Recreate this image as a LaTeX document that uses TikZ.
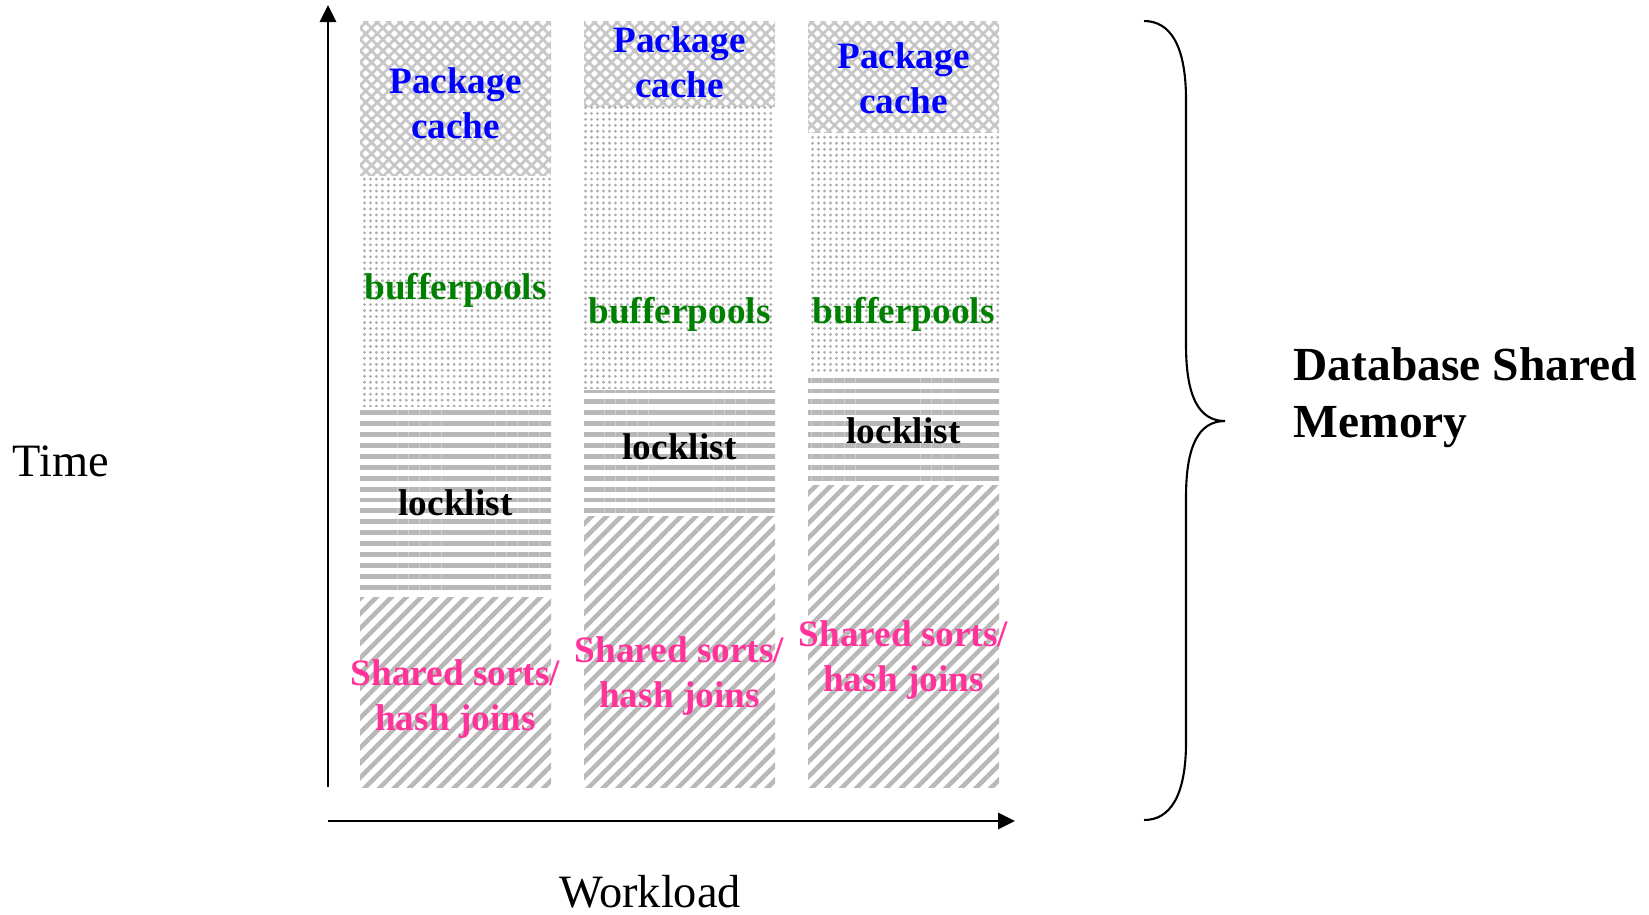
\documentclass[tikz,border=0pt]{standalone}
\usepackage{fontspec}
\setmainfont{Liberation Serif}
\usetikzlibrary{arrows.meta,patterns.meta}
\definecolor{cachecol}{RGB}{0,0,255}
\definecolor{poolcol}{RGB}{0,128,0}
\definecolor{sortcol}{RGB}{255,51,153}

\begin{document}
\begin{tikzpicture}[
    >={Triangle[length=0.17cm,width=0.16cm]},
    axis/.style={->,line width=.8pt,draw=black},
    cachebox/.style={pattern={Hatch[angle=45,distance=2.3pt,line width=.8pt]},pattern color=black!22},
    poolbox/.style={pattern={Dots[distance=1.7pt,radius=.45pt]},pattern color=black!32},
    lockbox/.style={pattern={Lines[angle=0,distance=3.1pt,line width=1.4pt]},pattern color=black!28},
    sortbox/.style={pattern={Lines[angle=45,distance=3pt,line width=1.3pt]},pattern color=black!28},
    part/.style={font=\fontsize{10.6}{12.8}\selectfont\bfseries,align=center,inner sep=0pt},
    axlabel/.style={font=\fontsize{13.2}{15.8}\selectfont,inner sep=0pt}]
\useasboundingbox (0,0) rectangle (16.49,-9.14);
% first column
\path[cachebox] (3.60,-0.21) rectangle (5.51,-1.75);
\path[poolbox] (3.60,-1.75) rectangle (5.51,-4.06);
\path[lockbox] (3.60,-4.08) rectangle (5.51,-5.95);
\path[sortbox] (3.60,-5.97) rectangle (5.51,-7.87);
% second column
\path[cachebox] (5.84,-0.21) rectangle (7.75,-1.06);
\path[poolbox] (5.84,-1.06) rectangle (7.75,-3.88);
\path[lockbox] (5.84,-3.90) rectangle (7.75,-5.14);
\path[sortbox] (5.84,-5.16) rectangle (7.75,-7.87);
% third column
\path[cachebox] (8.08,-0.21) rectangle (9.99,-1.32);
\path[poolbox] (8.08,-1.32) rectangle (9.99,-3.73);
\path[lockbox] (8.08,-3.75) rectangle (9.99,-4.83);
\path[sortbox] (8.08,-4.85) rectangle (9.99,-7.87);
\node[part,text=cachecol] (cache1) at (4.555,-1.03) {Package\\cache};
\node[part,text=poolcol] (pool1) at (4.555,-2.90) {bufferpools};
\node[part] (lock1) at (4.555,-5.03) {locklist};
\node[part,text=sortcol] (sort1) at (4.555,-6.99) {Shared sorts/\\hash joins};
\node[part,text=cachecol] (cache2) at (6.795,-0.62) {Package\\cache};
\node[part,text=poolcol] (pool2) at (6.795,-3.14) {bufferpools};
\node[part] (lock2) at (6.795,-4.47) {locklist};
\node[part,text=sortcol] (sort2) at (6.795,-6.76) {Shared sorts/\\hash joins};
\node[part,text=cachecol] (cache3) at (9.035,-0.78) {Package\\cache};
\node[part,text=poolcol] (pool3) at (9.035,-3.14) {bufferpools};
\node[part] (lock3) at (9.035,-4.31) {locklist};
\node[part,text=sortcol] (sort3) at (9.035,-6.60) {Shared sorts/\\hash joins};
% axes
\coordinate (ybase) at (3.28,-7.87);
\coordinate (ytop) at (3.28,-0.05);
\coordinate (xbase) at (3.28,-8.21);
\coordinate (xend) at (10.15,-8.21);
\draw[axis] (ybase)--(ytop);
\draw[axis] (xbase)--(xend);
\node[axlabel] (time) at (0.61,-4.61) {Time};
\node[axlabel] (workload) at (6.50,-8.92) {Workload};
% brace
\draw[line width=.6pt] (11.44,-0.21) .. controls (11.70,-0.21) and (11.86,-0.45) .. (11.86,-1.0)
    -- (11.86,-3.45) .. controls (11.86,-3.95) and (11.98,-4.21) .. (12.25,-4.21)
    .. controls (11.98,-4.21) and (11.86,-4.47) .. (11.86,-4.97)
    -- (11.86,-7.42) .. controls (11.86,-7.96) and (11.70,-8.20) .. (11.44,-8.20);
\node[axlabel,font=\fontsize{13.5}{16.2}\selectfont\bfseries,align=left,anchor=west] (dbmem) at (12.93,-3.98) {Database Shared\\Memory};
\end{tikzpicture}
\end{document}
